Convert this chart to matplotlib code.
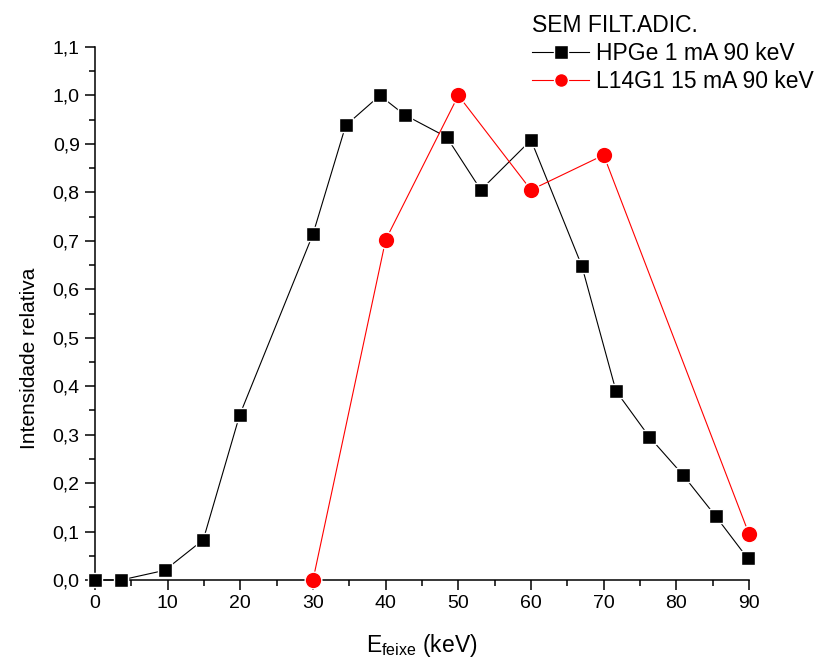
import matplotlib
matplotlib.use("Agg")
import matplotlib.pyplot as plt
from matplotlib.ticker import FuncFormatter, MultipleLocator

plt.rcParams["font.family"] = ["Liberation Sans", "DejaVu Sans"]

# HPGe spectrum, 1 mA at 90 keV
hpge_e = [0.0, 3.6, 9.6, 14.9, 19.9, 30.0, 34.5, 39.2, 42.6, 48.4, 53.1,
          60.0, 67.0, 71.7, 76.3, 80.9, 85.4, 89.8]
hpge_i = [0.0, 0.0, 0.02, 0.083, 0.34, 0.714, 0.938, 1.0, 0.96, 0.914, 0.805,
          0.908, 0.648, 0.39, 0.295, 0.217, 0.132, 0.045]

# L14G1, 15 mA at 90 keV
l14_e = [30, 40, 50, 60, 70, 90]
l14_i = [0.0, 0.702, 1.0, 0.805, 0.877, 0.095]

x_ticks = [0, 10, 20, 30, 40, 50, 60, 70, 80, 90]

W, H = 832, 665
fig = plt.figure(figsize=(W / 100, H / 100), dpi=100)
ax = fig.add_axes([95 / W, (H - 580) / H, (749 - 95) / W, (580 - 47) / H])

ax.plot(hpge_e, hpge_i, color="black", lw=0.8, marker="s", ms=10.5,
        mfc="black", mec="white", mew=1.0, clip_on=False, zorder=3,
        label="HPGe 1 mA 90 keV")
ax.plot(l14_e, l14_i, color="red", lw=0.8, marker="o", ms=12,
        mfc="red", mec="white", mew=1.0, clip_on=False, zorder=3,
        label="L14G1 15 mA 90 keV")

ax.set_xlim(0, 90)
ax.set_ylim(0, 1.1)
ax.set_xticks(x_ticks)
ax.xaxis.set_minor_locator(MultipleLocator(5))
ax.yaxis.set_major_locator(MultipleLocator(0.1))
ax.yaxis.set_minor_locator(MultipleLocator(0.05))
ax.yaxis.set_major_formatter(FuncFormatter(lambda v, p: f"{v:.1f}".replace(".", ",")))

for side in ("top", "right"):
    ax.spines[side].set_visible(False)
for side in ("left", "bottom"):
    ax.spines[side].set_linewidth(1.1)

ax.tick_params(which="major", direction="out", length=7, width=1.1,
               labelsize=14, pad=4)
ax.tick_params(which="minor", direction="out", length=4.5, width=1.1)

ax.set_xlabel(r"E$_{\mathregular{feixe}}$ (keV)", fontsize=16.5, labelpad=14)
ax.set_ylabel("Intensidade relativa", fontsize=15)
ax.yaxis.set_label_coords(-0.085, 0.415)

leg = fig.legend(loc="upper left", bbox_to_anchor=(523 / W, 1 - 5 / H),
                 frameon=False, title="SEM FILT.ADIC.", title_fontsize=16.5,
                 fontsize=16.5, handlelength=2.5, handletextpad=0.3,
                 labelspacing=0.22, borderaxespad=0, alignment="left",
                 numpoints=1)
for h in leg.legend_handles:
    h.set_markersize(10)

fig.savefig("out.png", dpi=100)
